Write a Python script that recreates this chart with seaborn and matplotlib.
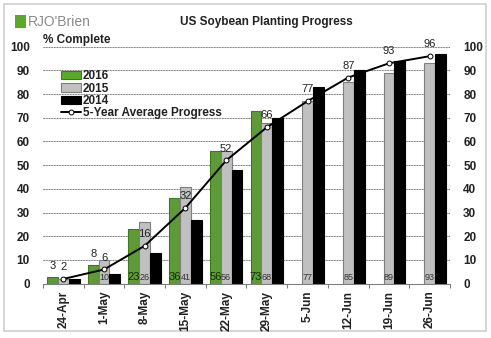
import numpy as np
import pandas as pd
import matplotlib
matplotlib.use("Agg")
import matplotlib.pyplot as plt
import seaborn as sns
from matplotlib.patches import Rectangle
from matplotlib.lines import Line2D
from matplotlib.patches import Patch

weeks = ["24-Apr", "1-May", "8-May", "15-May", "22-May", "29-May",
         "5-Jun", "12-Jun", "19-Jun", "26-Jun"]
y2016 = [3, 8, 23, 36, 56, 73, np.nan, np.nan, np.nan, np.nan]
y2015 = [2, 10, 26, 41, 56, 68, 77, 85, 89, 93]
y2014 = [2, 4, 13, 27, 48, 70, 83, 90, 94, 97]
avg5 = [2, 6, 16, 32, 52, 66, 77, 87, 93, 96]
series = ["2016", "2015", "2014"]
yticks = list(range(0, 101, 10))
colors = {"2016": "#5aaa28", "2015": "#c0c0c0", "2014": "#000000"}
edges = {"2016": "#3d7a1c", "2015": "#7f7f7f", "2014": "#000000"}

rows = []
for s, vals in zip(series, [y2016, y2015, y2014]):
    for w, v in zip(weeks, vals):
        if not np.isnan(v):
            rows.append({"week": w, "year": s, "pct": v})
df = pd.DataFrame(rows)

sns.set_theme(style="white")
plt.rcParams['font.family'] = ['Liberation Sans', 'DejaVu Sans']

fig = plt.figure(figsize=(4.91, 3.38), dpi=100)
ax = fig.add_axes([43/491, 1-283.7/338, 407/491, 237/338])

sns.barplot(data=df, x="week", y="pct", hue="year", order=weeks,
            hue_order=series, palette=colors, width=0.8, ax=ax,
            legend=False, errorbar=None)
for cont, s in zip(ax.containers, series):
    for p in cont:
        p.set_edgecolor(edges[s])
        p.set_linewidth(0.8)
        p.set_zorder(2)

for yv in yticks[1:]:
    ax.axhline(yv, color="#c4c4c4", lw=0.6, zorder=1.4)
    ax.axhline(yv, color="#808080", linestyle=(0, (1.2, 1.2)), lw=0.8, zorder=1.5)

x = np.arange(len(weeks))
off = 0.8/3
ax.plot(x, avg5, color="black", lw=1.4, marker="o", ms=3.5,
        mfc="white", mec="black", mew=0.7, zorder=5)

# labels
for i, v in enumerate(avg5):
    ax.annotate(f"{v}", (x[i], v), xytext=(0, 5), textcoords="offset points",
                ha="center", va="bottom", fontsize=8, color="#222222", zorder=6)
for i, v in enumerate(y2016):
    if np.isnan(v):
        continue
    if v < 10:
        ax.annotate(f"{int(v)}", (x[i]-off, v), xytext=(0, 4), textcoords="offset points",
                    ha="center", va="bottom", fontsize=8, color="#222222", zorder=6)
    else:
        ax.text(x[i]-off, 0.8, f"{int(v)}", ha="center", va="bottom",
                fontsize=8, color="#142b06", zorder=6)
for i, v in enumerate(y2015):
    if v >= 5:
        ax.text(x[i], 0.8, f"{v}", ha="center", va="bottom",
                fontsize=6.5, color="#333333", zorder=6)

ax.set_xlim(-0.5, len(weeks)-0.5)
ax.set_ylim(0, 100)
ax.set_yticks(yticks)
ax.set_xlabel("")
ax.set_ylabel("")
for sp in ["top", "left", "right"]:
    ax.spines[sp].set_visible(False)
ax.spines["bottom"].set_color("#808080")
ax.spines["bottom"].set_linewidth(0.8)
ax.spines["bottom"].set_zorder(3)
ax.set_xticks(x)
ax.set_xticklabels(weeks, rotation=90, fontsize=8.5, fontweight="bold", color="#222222")
ax.set_xticks(np.arange(-0.5, len(weeks), 1), minor=True)
ax.tick_params(axis="x", which="major", length=0, pad=5)
ax.tick_params(axis="x", which="minor", length=3, color="#808080", width=0.8, bottom=True)
ax.tick_params(axis="y", length=0, pad=9.5, labelsize=8.5,
               left=False, right=False, labelleft=True, labelright=True)
for tk in ax.yaxis.get_major_ticks():
    for lab in (tk.label1, tk.label2):
        lab.set_fontweight("bold"); lab.set_color("#222222")

handles = [Patch(facecolor=colors[s], edgecolor=edges[s], lw=0.8) for s in series]
handles.append(Line2D([0], [0], color="black", lw=1.4, marker="o", ms=3.5,
                      mfc="white", mec="black", mew=0.7))
leg = ax.legend(handles, series + ["5-Year Average Progress"], loc="upper left",
                bbox_to_anchor=(0.03, 0.925), frameon=False, borderpad=0,
                handlelength=1.7, handletextpad=0.15, labelspacing=0.02,
                prop={"size": 8.5, "weight": "bold"})
for t in leg.get_texts():
    t.set_color("#222222")

ax.text(-0.5, 100.5, "% Complete", fontsize=8.5, fontweight="bold",
        color="#222222", ha="left", va="bottom")

fig.text(266/491, 1-22/338, "US Soybean Planting Progress", ha="center",
         va="center", fontsize=8.5, fontweight="bold", color="#222222")

# logo
fig.add_artist(Rectangle((15/491, 1-28/338), 11/491, 13/338,
                         transform=fig.transFigure, facecolor="#5aaa28",
                         edgecolor="none", zorder=-1))
fig.text(28/491, 1-22/338, "RJO'Brien", ha="left", va="center",
         fontsize=10, color="#8a8a8a")

fig.add_artist(Rectangle((4/491, 1-331/338), 482/491, 327/338,
                         transform=fig.transFigure, fill=False,
                         edgecolor="#d0d0d0", lw=1.2, zorder=-1))

fig.savefig("out.png", dpi=100, facecolor="white")
